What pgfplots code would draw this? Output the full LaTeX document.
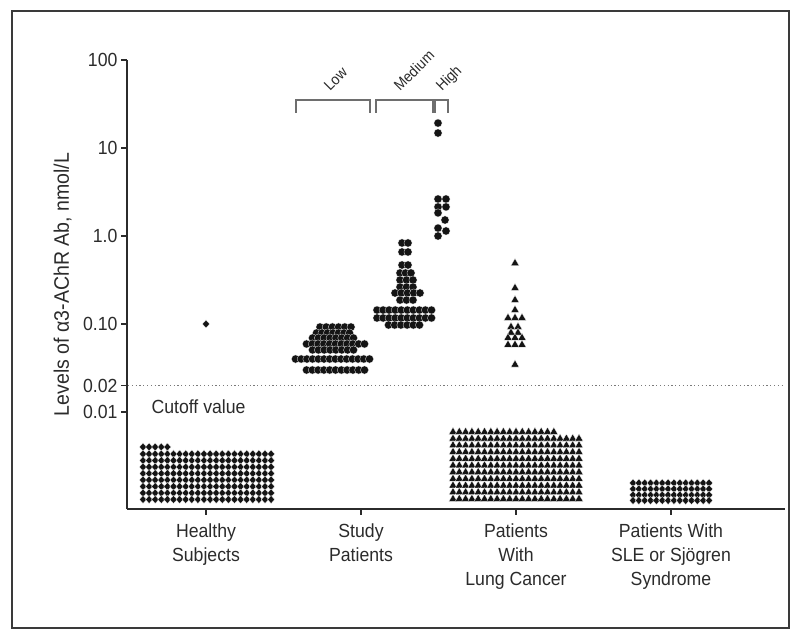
\documentclass[border=0pt]{standalone}
\usepackage{fontspec}
\setmainfont{Liberation Sans}[FakeStretch=0.93]
\usepackage{pgfplots}
\usepackage{pgfplotstable}
\pgfplotsset{compat=1.18}

\definecolor{markcol}{HTML}{141414}
\definecolor{axiscol}{HTML}{2B2B2B}
\definecolor{textcol}{HTML}{2B2B2B}
\definecolor{brcol}{HTML}{6E6E6E}
\definecolor{dotcol}{HTML}{7A7A7A}
\definecolor{framecol}{HTML}{3A3A3A}

% x positions of the columns in the stacked blocks below the cutoff
\pgfplotstableread{
k x
1 143.0
2 149.1
3 155.2
4 161.3
5 167.4
6 173.5
7 179.6
8 185.7
9 191.8
10 197.9
11 204.0
12 210.1
13 216.2
14 222.3
15 228.4
16 234.5
17 240.6
18 246.7
19 252.8
20 258.9
21 265.0
22 271.1
}\healthycols

\pgfplotstableread{
k x
1 453.0
2 459.3
3 465.6
4 471.9
5 478.2
6 484.5
7 490.8
8 497.1
9 503.4
10 509.7
11 516.0
12 522.3
13 528.6
14 534.9
15 541.2
16 547.5
17 553.8
18 560.1
19 566.4
20 572.7
21 579.0
}\lungcols

\pgfplotstableread{
k x
1 633.0
2 638.85
3 644.7
4 650.55
5 656.4
6 662.25
7 668.1
8 673.95
9 679.8
10 685.65
11 691.5
12 697.35
13 703.2
14 709.05
}\slecols

\pgfplotsset{
  dotc/.style={only marks, color=markcol, mark=*, mark size=4.1pt,
    mark options={fill=markcol, draw=white, line width=0.25pt}},
  diam/.style={only marks, color=markcol, mark=diamond*, mark size=4.0pt,
    mark options={fill=markcol, draw=white, line width=0.25pt, xscale=1.2}},
  tri/.style={only marks, color=markcol, mark=triangle*, mark size=4.7pt,
    mark options={fill=markcol, draw=white, line width=0.25pt}},
}

\begin{document}
\begin{tikzpicture}
\path[use as bounding box] (0,0) rectangle (800pt,639pt);
\begin{axis}[
  at={(127pt,130pt)}, anchor=south west,
  scale only axis, width=658pt, height=449pt,
  xmin=127, xmax=785, ymode=log, ymin=7.9e-4, ymax=100,
  axis lines=left,
  axis line style={-, line width=1.4pt, draw=axiscol},
  every outer x axis line/.append style={-},
  every outer y axis line/.append style={-},
  xtick={206,361,516,671},
  xticklabels={{Healthy\\Subjects},{Study\\Patients},{Patients\\With\\Lung Cancer},{Patients With\\SLE or Sjögren\\Syndrome}},
  ytick={0.01,0.02,0.1,1,10,100},
  yticklabels={0.01,0.02,0.10,1.0,10,100},
  yminorticks=false, xminorticks=false,
  tick align=outside, major tick length=6pt,
  major tick style={line width=1.4pt, draw=axiscol},
  ticklabel style={font=\fontsize{19}{24}\selectfont, text=textcol},
  xticklabel style={align=center, yshift=-5pt},
  ylabel={Levels of α3-AChR Ab, nmol/L},
  ylabel style={font=\fontsize{21}{24}\selectfont, text=textcol, at={(axis description cs:-0.098,0.5)}, anchor=center},
  clip=false,
]
% cutoff line
\addplot[dotcol, line width=1.2pt, dash pattern=on 1.2pt off 2.6pt] coordinates {(128,0.02) (785,0.02)};
\node[anchor=base west, font=\fontsize{19}{24}\selectfont, text=textcol] at (axis cs:148,0.0097) {Cutoff value};

% brackets
\draw[brcol, line width=1.2pt] (axis cs:296,25.0) -- (axis cs:296,35.1) -- (axis cs:370,35.1) -- (axis cs:370,25.0);
\draw[brcol, line width=1.2pt] (axis cs:376,25.0) -- (axis cs:376,35.1) -- (axis cs:433,35.1) -- (axis cs:433,25.0);
\draw[brcol, line width=1.2pt] (axis cs:435,25.0) -- (axis cs:435,35.1) -- (axis cs:448,35.1) -- (axis cs:448,25.0);
\node[rotate=45, anchor=base west, inner sep=0pt, font=\fontsize{15}{18}\selectfont, text=textcol] at (axis cs:330,43.3) {Low};
\node[rotate=45, anchor=base west, inner sep=0pt, font=\fontsize{15}{18}\selectfont, text=textcol] at (axis cs:400,43.3) {Medium};
\node[rotate=45, anchor=base west, inner sep=0pt, font=\fontsize{15}{18}\selectfont, text=textcol] at (axis cs:442,43.3) {High};

% Healthy subjects
\addplot[diam] coordinates {(206,0.10)};
\addplot[diam] coordinates {(143,0.004002)(149.1,0.004002)(155.2,0.004002)(161.3,0.004002)(167.4,0.004002)};
\addplot[diam] table[x=x, y expr=0.003332] {\healthycols};
\addplot[diam] table[x=x, y expr=0.002812] {\healthycols};
\addplot[diam] table[x=x, y expr=0.002371] {\healthycols};
\addplot[diam] table[x=x, y expr=0.002000] {\healthycols};
\addplot[diam] table[x=x, y expr=0.001688] {\healthycols};
\addplot[diam] table[x=x, y expr=0.001423] {\healthycols};
\addplot[diam] table[x=x, y expr=0.001201] {\healthycols};
\addplot[diam] table[x=x, y expr=0.001013] {\healthycols};

% Study patients: low
\addplot[dotc] coordinates {
(320,0.0924)(326.2,0.0924)(332.4,0.0924)(338.6,0.0924)(344.8,0.0924)(351,0.0924)
(316.5,0.0790)(322,0.0790)(327.5,0.0790)(333,0.0790)(338.5,0.0790)(344,0.0790)(349.5,0.0790)
(312.5,0.0693)(318.4,0.0693)(324.2,0.0693)(330.1,0.0693)(335.9,0.0693)(341.8,0.0693)(347.6,0.0693)(353.5,0.0693)
(306.5,0.0593)(312.3,0.0593)(318.1,0.0593)(323.9,0.0593)(329.7,0.0593)(335.5,0.0593)(341.3,0.0593)(347.1,0.0593)(352.9,0.0593)(358.7,0.0593)(364.5,0.0593)
(312.5,0.0507)(318.4,0.0507)(324.2,0.0507)(330.1,0.0507)(335.9,0.0507)(341.8,0.0507)(347.6,0.0507)(353.5,0.0507)
(295.5,0.0400)(301.2,0.0400)(306.9,0.0400)(312.6,0.0400)(318.3,0.0400)(324.0,0.0400)(329.7,0.0400)(335.3,0.0400)(341.0,0.0400)(346.7,0.0400)(352.4,0.0400)(358.1,0.0400)(363.8,0.0400)(369.5,0.0400)
(306.5,0.0300)(312.3,0.0300)(318.1,0.0300)(323.9,0.0300)(329.7,0.0300)(335.5,0.0300)(341.3,0.0300)(347.1,0.0300)(352.9,0.0300)(358.7,0.0300)(364.5,0.0300)
};
% Study patients: medium
\addplot[dotc] coordinates {
(402,0.833)(408,0.833)
(402,0.658)(408,0.658)
(402,0.468)(408,0.468)
(400,0.380)(405.5,0.380)(411,0.380)
(400,0.316)(406.5,0.316)(413,0.316)
(400,0.263)(406.5,0.263)(413,0.263)
(395,0.225)(401.25,0.225)(407.5,0.225)(413.75,0.225)(420,0.225)
(400,0.187)(406.5,0.187)(413,0.187)
(377,0.144)(383.1,0.144)(389.1,0.144)(395.2,0.144)(401.2,0.144)(407.3,0.144)(413.3,0.144)(419.4,0.144)(425.4,0.144)(431.5,0.144)
(377,0.117)(383.1,0.117)(389.1,0.117)(395.2,0.117)(401.2,0.117)(407.3,0.117)(413.3,0.117)(419.4,0.117)(425.4,0.117)(431.5,0.117)
(388.5,0.0974)(394.7,0.0974)(400.9,0.0974)(407.1,0.0974)(413.3,0.0974)(419.5,0.0974)
};
% Study patients: high
\addplot[dotc] coordinates {
(438,19.2)(438,14.8)(438,2.63)(446,2.63)(438,2.14)(446,2.14)(438,1.83)(445,1.52)(438,1.23)(446,1.14)(438,1.0)
};

% Lung cancer: above cutoff
\addplot[tri] coordinates {
(515,0.49)(515,0.256)(515,0.187)(515,0.144)(508,0.117)(515,0.117)(522,0.117)(511,0.0925)(518,0.0925)(511,0.0795)(518,0.0795)(508,0.0695)(515,0.0695)(522,0.0695)(508,0.058)(515,0.058)(522,0.058)(515,0.0345)
};
% Lung cancer: below cutoff
\addplot[tri] coordinates {(453.0,0.005925)(459.3,0.005925)(465.6,0.005925)(471.9,0.005925)(478.2,0.005925)(484.5,0.005925)(490.8,0.005925)(497.1,0.005925)(503.4,0.005925)(509.7,0.005925)(516.0,0.005925)(522.3,0.005925)(528.6,0.005925)(534.9,0.005925)(541.2,0.005925)(547.5,0.005925)(553.8,0.005925)};
\addplot[tri] table[x=x, y expr=0.004972] {\lungcols};
\addplot[tri] table[x=x, y expr=0.004173] {\lungcols};
\addplot[tri] table[x=x, y expr=0.003502] {\lungcols};
\addplot[tri] table[x=x, y expr=0.002939] {\lungcols};
\addplot[tri] table[x=x, y expr=0.002466] {\lungcols};
\addplot[tri] table[x=x, y expr=0.002070] {\lungcols};
\addplot[tri] table[x=x, y expr=0.001737] {\lungcols};
\addplot[tri] table[x=x, y expr=0.001457] {\lungcols};
\addplot[tri] table[x=x, y expr=0.001223] {\lungcols};
\addplot[tri] table[x=x, y expr=0.001026] {\lungcols};

% SLE or Sjogren
\addplot[diam] table[x=x, y expr=0.001560] {\slecols};
\addplot[diam] table[x=x, y expr=0.001334] {\slecols};
\addplot[diam] table[x=x, y expr=0.001140] {\slecols};
\addplot[diam] table[x=x, y expr=0.000987] {\slecols};
\end{axis}
\draw[framecol, line width=1.6pt] (12pt,11pt) rectangle (789pt,628pt);
\end{tikzpicture}
\end{document}
